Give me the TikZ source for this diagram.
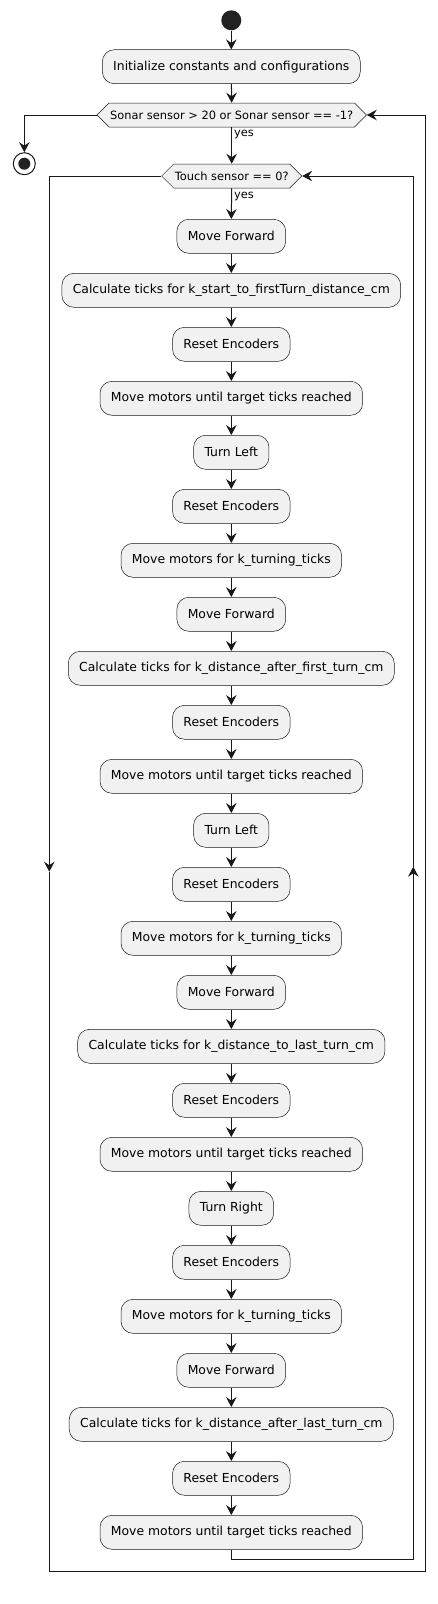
\documentclass[tikz,border=0pt]{standalone}
\usepackage{fontspec}
\setmainfont{DejaVu Sans}
\usetikzlibrary{arrows.meta,shapes.symbols}

\definecolor{actfill}{HTML}{F1F1F1}
\definecolor{actline}{HTML}{181818}
\definecolor{startcol}{HTML}{222222}

\tikzset{
  act/.style={draw=actline, fill=actfill, line width=0.5pt, rounded corners=12pt,
     minimum height=34pt, inner xsep=10.9pt, inner ysep=0pt,
     font=\fontsize{12.4}{14}\selectfont},
  cond/.style={draw=actline, fill=actfill, line width=0.5pt, signal,
     signal to=west and east, signal pointer angle=90,
     minimum height=24pt, inner xsep=1.2pt, inner ysep=0pt,
     font=\fontsize{11.4}{13}\selectfont},
  yeslbl/.style={font=\fontsize{11.4}{13}\selectfont, inner sep=2pt},
  flow/.style={draw=actline, line width=1pt,
     -{Stealth[length=10pt,width=10.5pt,inset=3.5pt]}},
  line/.style={draw=actline, line width=1pt}
}

\begin{document}
\begin{tikzpicture}[x=1pt, y=-1pt]
            \useasboundingbox (0,0) rectangle (438,1604);
            \node[circle, fill=startcol, minimum size=20pt, inner sep=0pt] (start) at (231.3,20.3) {};
            \node[act] (init) at (231.3,66.7) {Initialize constants and configurations};
            \node[cond] (sonar) at (231.7,115) {Sonar sensor > 20 or Sonar sensor == -1?};
            \node[circle, draw=actline, line width=1pt, minimum size=22pt, inner sep=0pt,
               path picture={\fill[startcol] (path picture bounding box.center) circle (6pt);}]
               (stop) at (24.3,163.7) {};
            \node[cond] (touch) at (231.7,176) {Touch sensor == 0?};
            % loop body
            \node[act] (fwdA) at (231.3,236.3) {Move Forward};
            \node[act] (calcA) at (231.3,290.3) {Calculate ticks for k\_start\_to\_firstTurn\_distance\_cm};
            \node[act] (rstA) at (231.3,344.3) {Reset Encoders};
            \node[act] (runA) at (231.3,398.3) {Move motors until target ticks reached};
            \node[act] (leftA) at (231.3,452.3) {Turn Left};
            \node[act] (rstB) at (231.3,506.3) {Reset Encoders};
            \node[act] (turnA) at (231.3,560.3) {Move motors for k\_turning\_ticks};
            \node[act] (fwdB) at (231.3,614.3) {Move Forward};
            \node[act] (calcB) at (231.3,668.3) {Calculate ticks for k\_distance\_after\_first\_turn\_cm};
            \node[act] (rstC) at (231.3,722.3) {Reset Encoders};
            \node[act] (runB) at (231.3,776.3) {Move motors until target ticks reached};
            \node[act] (leftB) at (231.3,830.3) {Turn Left};
            \node[act] (rstD) at (231.3,884.3) {Reset Encoders};
            \node[act] (turnB) at (231.3,938.3) {Move motors for k\_turning\_ticks};
            \node[act] (fwdC) at (231.3,992.3) {Move Forward};
            \node[act] (calcC) at (231.3,1046.3) {Calculate ticks for k\_distance\_to\_last\_turn\_cm};
            \node[act] (rstE) at (231.3,1100.3) {Reset Encoders};
            \node[act] (runC) at (231.3,1154.3) {Move motors until target ticks reached};
            \node[act] (rightA) at (231.3,1208.3) {Turn Right};
            \node[act] (rstF) at (231.3,1262.3) {Reset Encoders};
            \node[act] (turnC) at (231.3,1316.3) {Move motors for k\_turning\_ticks};
            \node[act] (fwdD) at (231.3,1370.3) {Move Forward};
            \node[act] (calcD) at (231.3,1424.3) {Calculate ticks for k\_distance\_after\_last\_turn\_cm};
            \node[act] (rstG) at (231.3,1478.3) {Reset Encoders};
            \node[act] (runD) at (231.3,1532.3) {Move motors until target ticks reached};
            % loop corners
            \coordinate (outDown) at (49.3,871.7);
            \coordinate (outBL) at (49.3,1571);
            \coordinate (outBR) at (425.7,1571);
            \coordinate (inB) at (231.3,1559.3);
            \coordinate (inUp) at (413.3,866.7);
            % arrows
            \draw[flow] (start) -- (init);
            \draw[flow] (init) -- (sonar);
            \draw[flow] (sonar.west) -| (stop.north);
            \draw[flow] (sonar.south) -- (touch.north) node[yeslbl, pos=0.2, right] {yes};
            \draw[flow] (touch.south) -- (fwdA.north) node[yeslbl, pos=0.26, right] {yes};
            \draw[flow] (fwdA) -- (calcA);
            \draw[flow] (calcA) -- (rstA);
            \draw[flow] (rstA) -- (runA);
            \draw[flow] (runA) -- (leftA);
            \draw[flow] (leftA) -- (rstB);
            \draw[flow] (rstB) -- (turnA);
            \draw[flow] (turnA) -- (fwdB);
            \draw[flow] (fwdB) -- (calcB);
            \draw[flow] (calcB) -- (rstC);
            \draw[flow] (rstC) -- (runB);
            \draw[flow] (runB) -- (leftB);
            \draw[flow] (leftB) -- (rstD);
            \draw[flow] (rstD) -- (turnB);
            \draw[flow] (turnB) -- (fwdC);
            \draw[flow] (fwdC) -- (calcC);
            \draw[flow] (calcC) -- (rstE);
            \draw[flow] (rstE) -- (runC);
            \draw[flow] (runC) -- (rightA);
            \draw[flow] (rightA) -- (rstF);
            \draw[flow] (rstF) -- (turnC);
            \draw[flow] (turnC) -- (fwdD);
            \draw[flow] (fwdD) -- (calcD);
            \draw[flow] (calcD) -- (rstG);
            \draw[flow] (rstG) -- (runD);
            % back to touch check
            \draw[flow] (runD.south) -- (inB) -| (inUp);
            \draw[flow] (inUp) |- (touch.east);
            % leave inner loop, back to sonar check
            \draw[flow] (touch.west) -| (outDown);
            \draw[flow] (outDown) -- (outBL) -- (outBR) |- (sonar.east);
        \end{tikzpicture}
\end{document}
